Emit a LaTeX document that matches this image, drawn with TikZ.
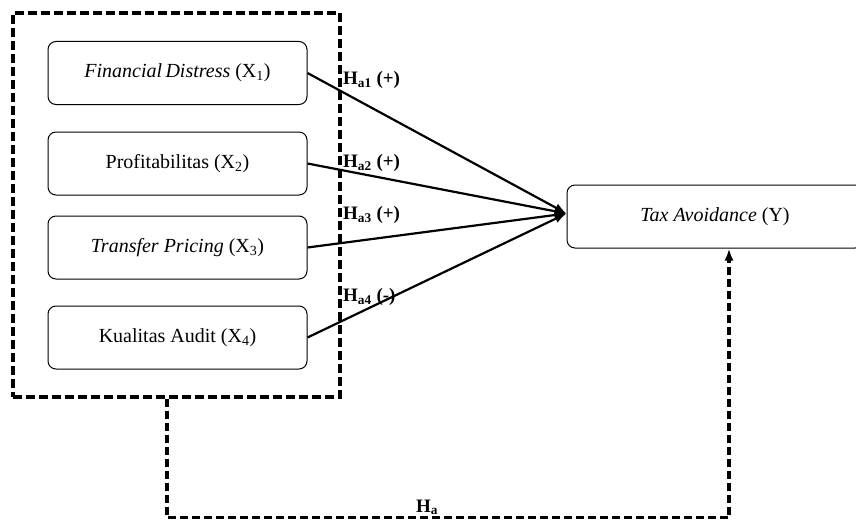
\documentclass[tikz,border=0pt]{standalone}
\usepackage{fontspec}
\setmainfont{Liberation Serif}
\usetikzlibrary{arrows.meta,positioning}

\tikzset{
  varbox/.style={draw, rounded corners=8pt, line width=1pt, minimum width=259pt, minimum height=63pt, font=\fontsize{20}{22}\selectfont},
  groupbox/.style={draw, line width=3.2pt, dash pattern=on 9pt off 4pt},
  hyplabel/.style={anchor=west, font=\fontsize{19}{21}\selectfont\bfseries, inner sep=0pt},
  hyparrow/.style={-{Latex[length=12pt,width=9pt]}, line width=2.2pt},
}

\begin{document}
\begin{tikzpicture}[x=1pt, y=-1pt]
    \useasboundingbox (0,0) rectangle (856,519);

    % Dashed group round the independent variables
    \node[groupbox, minimum width=327pt, minimum height=384pt] (grp) at (176.5,205) {};

    % Independent variables
    \node[varbox] (x1) at (177.5,73) {\textit{Financial\,Distress} (X\textsubscript{1})};
    \node[varbox] (x2) at (177.5,163.5) {Profitabilitas (X\textsubscript{2})};
    \node[varbox] (x3) at (177.5,247.5) {\textit{Transfer Pricing} (X\textsubscript{3})};
    \node[varbox] (x4) at (177.5,337.5) {Kualitas Audit (X\textsubscript{4})};

    % Dependent variable
    \node[varbox, minimum width=296pt] (ty) at (715,216.5) {\textit{Tax Avoidance} (Y)};
    \coordinate (tip) at ([yshift=3pt]ty.west);

    % Partial hypotheses
    \draw[hyparrow] (x1.east) -- (tip);
    \draw[hyparrow] (x2.east) -- (tip);
    \draw[hyparrow] (x3.east) -- (tip);
    \draw[hyparrow] (x4.east) -- (tip);

    \node[hyplabel] (ha1) at (343,80) {H\textsubscript{a1} (+)};
    \node[hyplabel] (ha2) at (343,163) {H\textsubscript{a2} (+)};
    \node[hyplabel] (ha3) at (343,215) {H\textsubscript{a3} (+)};
    \node[hyplabel] (ha4) at (343,297) {H\textsubscript{a4} (-)};

    % Simultaneous hypothesis
    \draw[groupbox, dash pattern=on 8pt off 4pt, -{Latex[length=12pt,width=9pt]}]
        ([xshift=-9.5pt]grp.south) -- ++(0,119) coordinate (bend)
        -| ([xshift=14pt]ty.south);
    \node[font=\fontsize{19}{21}\selectfont\bfseries, anchor=south, inner sep=1pt] (ha) at (427,516) {H\textsubscript{a}};
\end{tikzpicture}
\end{document}
